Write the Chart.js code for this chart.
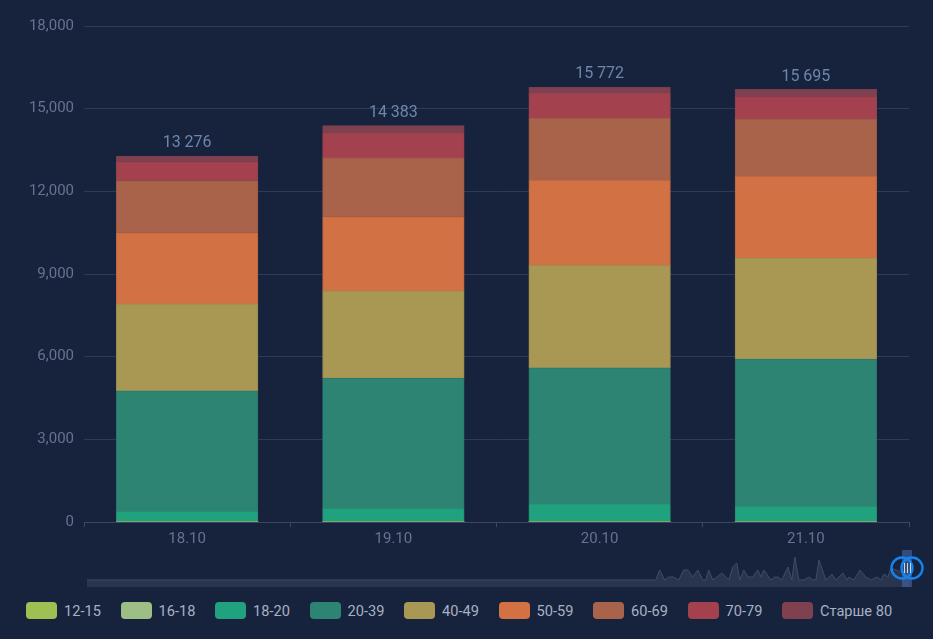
<!DOCTYPE html>
<html lang="ru">
<head>
    <meta charset="UTF-8">
    <title>Возрастные группы</title>
    <script src="https://cdn.jsdelivr.net/npm/chart.js"></script>
    <style>
        html, body { margin: 0; padding: 0; background: #17233c; width: 933px; height: 639px; overflow: hidden; }
        body { position: relative; font-family: Roboto, sans-serif; }
        canvas { position: absolute; display: block; }
        #grafico { left: 0; top: 0; }
        #obzor { left: 0; top: 540px; }
        #legenda { position: absolute; left: 26px; top: 602px; display: flex; }
        .item { width: 94.5px; height: 17px; display: flex; align-items: center; flex: none; }
        .caixa { width: 31px; height: 17px; border-radius: 4px; margin-right: 7px; flex: none; }
        .nome { color: #a7b1c4; font-size: 14.6px; white-space: nowrap; }
    </style>
</head>
<body>
    <canvas id="grafico" width="933" height="545"></canvas>
    <canvas id="obzor" width="933" height="50"></canvas>
    <div id="legenda"></div>
    <script>
        const categories = ['18.10', '19.10', '20.10', '21.10'];
        const seriesNames = ['12-15', '16-18', '18-20', '20-39', '40-49', '50-59', '60-69', '70-79', 'Старше 80'];

        const age1215 = [0, 0, 0, 0];
        const age1618 = [0, 0, 0, 0];
        const age1820 = [380, 490, 650, 560];
        const age2039 = [4370, 4730, 4940, 5350];
        const age4049 = [3160, 3160, 3730, 3670];
        const age5059 = [2590, 2700, 3080, 2970];
        const age6069 = [1880, 2130, 2250, 2070];
        const age7079 = [690, 900, 910, 800];
        const age80 = [206, 273, 212, 275];

        const yTicks = [0, 3000, 6000, 9000, 12000, 15000, 18000];

        // overview strip under the chart, position along the range and total
        const overviewSteps = [0, 568, 572, 577, 581, 586, 591, 596, 600, 605, 610, 615, 618, 621, 625, 628, 634, 641, 645, 649, 652, 656, 660, 665, 670, 673, 676, 683, 687, 690, 694, 700, 704, 707, 711, 716, 721, 725, 728, 731, 738, 744, 748, 755, 759, 761, 766, 772, 778, 783, 789, 793, 796, 800, 803, 808, 813, 821];
        const overviewValues = [6300, 6300, 15300, 6300, 9000, 9000, 6300, 15300, 15300, 9000, 15300, 6300, 6300, 15300, 6300, 8100, 12600, 6300, 18000, 21600, 6300, 15300, 9000, 9000, 15300, 9000, 15300, 6300, 9000, 9000, 6300, 18000, 6300, 27000, 6300, 6300, 9000, 6300, 6300, 24300, 6300, 11700, 6300, 12600, 6300, 9000, 6300, 15300, 9000, 6300, 9000, 6300, 11700, 9000, 17100, 15300, 13500, 15300];
        const overviewWindow = [814, 824];

        const seriesValues = [age1215, age1618, age1820, age2039, age4049, age5059, age6069, age7079, age80];
        const colors = ['#a0bf52', '#9dbe84', '#21a27f', '#2d8472', '#a89854', '#d27144', '#a8634a', '#a4414f', '#7f4050'];
        const borders = ['#a0bf52', '#9dbe84', '#258d74', '#2b766a', '#988a52', '#b96643', '#985b49', '#94404f', '#743e50'];

        const totais = categories.map((c, i) => seriesValues.reduce((soma, s) => soma + s[i], 0));

        const rotulosTotais = {
            id: 'rotulosTotais',
            afterDatasetsDraw(chart) {
                const { ctx, scales } = chart;
                ctx.save();
                ctx.font = '16px Roboto, sans-serif';
                ctx.fillStyle = '#6c86ad';
                ctx.textAlign = 'center';
                ctx.textBaseline = 'bottom';
                totais.forEach((total, i) => {
                    const texto = String(total).replace(/\B(?=(\d{3})+$)/g, ' ');
                    ctx.fillText(texto, scales.x.getPixelForValue(i), scales.y.getPixelForValue(total) - 5);
                });
                ctx.restore();
            }
        };

        new Chart(document.getElementById('grafico').getContext('2d'), {
            type: 'bar',
            data: {
                labels: categories,
                datasets: seriesNames.map((nome, i) => ({
                    label: nome,
                    data: seriesValues[i],
                    backgroundColor: colors[i],
                    borderColor: borders[i],
                    borderWidth: i < 2 ? 0 : 1,
                    borderSkipped: 'bottom',
                    inflateAmount: 0.5,
                    barPercentage: 0.685,
                    categoryPercentage: 1
                }))
            },
            options: {
                responsive: false,
                animation: false,
                devicePixelRatio: 1,
                layout: { padding: { top: 26, right: 24 } },
                plugins: { legend: { display: false }, tooltip: { enabled: false } },
                scales: {
                    x: {
                        stacked: true,
                        afterFit(scale) { scale.height = 23; },
                        border: { color: '#3b4762', z: 1 },
                        grid: { drawOnChartArea: false, color: '#3b4762', tickLength: 5, offset: true },
                        ticks: { color: '#667390', font: { family: 'Roboto', size: 15 }, padding: 3 }
                    },
                    y: {
                        stacked: true,
                        min: 0,
                        max: yTicks[yTicks.length - 1],
                        afterFit(scale) { scale.width = 84; },
                        afterBuildTicks(scale) { scale.ticks = yTicks.map(value => ({ value })); },
                        border: { display: false },
                        grid: { color: '#2e3a56', tickLength: 0 },
                        ticks: {
                            color: '#667390',
                            font: { family: 'Roboto', size: 15 },
                            padding: 10,
                            callback: value => value.toLocaleString('en-US')
                        }
                    }
                }
            },
            plugins: [rotulosTotais]
        });

        const alcas = {
            id: 'alcas',
            afterDraw(chart) {
                const { ctx, scales } = chart;
                const x0 = scales.x.getPixelForValue(overviewWindow[0]);
                const x1 = scales.x.getPixelForValue(overviewWindow[1]);
                const base = scales.y.getPixelForValue(0);
                const centro = base - 19;
                ctx.save();
                ctx.fillStyle = 'rgba(72, 104, 165, 0.6)';
                ctx.fillRect(x0, base - 37, x1 - x0, 37);
                ctx.strokeStyle = '#1583ee';
                ctx.lineWidth = 2.4;
                [x0, x1].forEach(x => {
                    ctx.beginPath();
                    ctx.arc(x, centro, 10.5, 0, Math.PI * 2);
                    ctx.stroke();
                });
                ctx.strokeStyle = '#c9d6ea';
                ctx.lineWidth = 1;
                [-3, 0, 3].forEach(d => {
                    ctx.beginPath();
                    ctx.moveTo(Math.round((x0 + x1) / 2) + d + 0.5, centro - 5);
                    ctx.lineTo(Math.round((x0 + x1) / 2) + d + 0.5, centro + 5);
                    ctx.stroke();
                });
                ctx.restore();
            }
        };

        new Chart(document.getElementById('obzor').getContext('2d'), {
            type: 'line',
            data: {
                datasets: [{
                    data: overviewSteps.map((passo, i) => ({ x: passo, y: overviewValues[i] })),
                    borderColor: '#404c68',
                    borderWidth: 1,
                    backgroundColor: '#29344f',
                    fill: 'origin',
                    pointRadius: 0,
                    tension: 0
                }]
            },
            options: {
                responsive: false,
                animation: false,
                devicePixelRatio: 1,
                layout: { padding: { left: 87, right: 24, top: 3, bottom: 3 } },
                plugins: { legend: { display: false }, tooltip: { enabled: false } },
                scales: {
                    x: { type: 'linear', display: false, min: overviewSteps[0], max: overviewSteps[overviewSteps.length - 1] },
                    y: { display: false, min: 0, max: 39600 }
                }
            },
            plugins: [alcas]
        });

        const legenda = document.getElementById('legenda');
        seriesNames.forEach((nome, i) => {
            const item = document.createElement('div');
            item.classList.add('item');
            const caixa = document.createElement('div');
            caixa.classList.add('caixa');
            caixa.style.background = colors[i];
            const texto = document.createElement('div');
            texto.classList.add('nome');
            texto.textContent = nome;
            item.appendChild(caixa);
            item.appendChild(texto);
            legenda.appendChild(item);
        });
    </script>
</body>
</html>
